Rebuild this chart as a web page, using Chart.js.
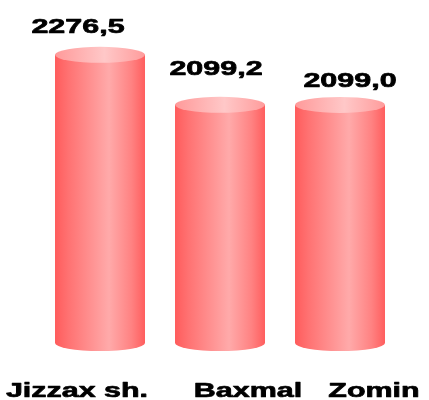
<!DOCTYPE html>
<html>
<head>
<meta charset="utf-8">
<script src="https://cdn.jsdelivr.net/npm/chart.js@4"></script>
<style>
  html, body { margin: 0; padding: 0; background: #fff; }
  #wrap { width: 429px; height: 400px; }
</style>
</head>
<body>
<div id="wrap"><canvas id="chart" width="429" height="400"></canvas></div>
<script>
const categories = ['Jizzax sh.', 'Baxmal', 'Zomin'];
const values = [2276.5, 2099.2, 2099.0];
const valueLabels = ['2276,5', '2099,2', '2099,0'];

// the original text is stretched horizontally and nudged off-centre
const textStretch = 1.45;
const valueShift = [[-22, -22], [-4, -30], [10, -18]];
const catShift = [-23, 28, 34];

function drawCylinders(chart) {
  const ctx = chart.ctx;
  const meta = chart.getDatasetMeta(0);
  meta.data.forEach((bar) => {
    const w = bar.width;
    const left = bar.x - w / 2;
    const ry = 8;
    const top = bar.y;
    const base = Math.min(bar.base, chart.chartArea.bottom);

    const body = ctx.createLinearGradient(left, 0, left + w, 0);
    body.addColorStop(0, '#ff5c5c');
    body.addColorStop(0.15, '#ff7272');
    body.addColorStop(0.6, '#ffaaaa');
    body.addColorStop(0.85, '#ff8282');
    body.addColorStop(1, '#ff5e5e');

    ctx.save();
    ctx.fillStyle = body;
    ctx.beginPath();
    ctx.moveTo(left, top);
    ctx.lineTo(left, base);
    ctx.ellipse(bar.x, base, w / 2, ry, 0, Math.PI, 0, true);
    ctx.lineTo(left + w, top);
    ctx.closePath();
    ctx.fill();

    const cap = ctx.createLinearGradient(left, 0, left + w, 0);
    cap.addColorStop(0, '#ff9a9a');
    cap.addColorStop(0.55, '#ffc8c8');
    cap.addColorStop(1, '#ff9c9c');
    ctx.fillStyle = cap;
    ctx.beginPath();
    ctx.ellipse(bar.x, top, w / 2, ry, 0, 0, Math.PI * 2);
    ctx.fill();
    ctx.restore();
  });
}

function stretchedText(ctx, txt, cx, baseline) {
  ctx.save();
  ctx.translate(cx, baseline);
  ctx.scale(textStretch, 1);
  ctx.fillText(txt, 0, 0);
  ctx.strokeText(txt, 0, 0);
  ctx.restore();
}

const cylinderPlugin = {
  id: 'cylinders',
  afterDatasetsDraw(chart) {
    drawCylinders(chart);
    const ctx = chart.ctx;
    const meta = chart.getDatasetMeta(0);
    ctx.save();
    ctx.fillStyle = '#000';
    ctx.strokeStyle = '#000';
    ctx.lineWidth = 0.7;
    ctx.lineJoin = 'round';
    ctx.font = 'bold 21px "Liberation Sans", Arial, sans-serif';
    ctx.textAlign = 'center';
    ctx.textBaseline = 'alphabetic';
    meta.data.forEach((bar, i) => {
      stretchedText(ctx, valueLabels[i], bar.x + valueShift[i][0], bar.y + valueShift[i][1]);
      stretchedText(ctx, categories[i], bar.x + catShift[i], 397);
    });
    ctx.restore();
  }
};

new Chart(document.getElementById('chart'), {
  type: 'bar',
  data: {
    labels: categories,
    datasets: [{
      data: values,
      backgroundColor: 'rgba(0,0,0,0)',
      categoryPercentage: 1,
      barPercentage: 0.75
    }]
  },
  options: {
    responsive: false,
    animation: false,
    layout: { padding: { left: 40, right: 29, top: 0, bottom: 57 } },
    plugins: { legend: { display: false }, tooltip: { enabled: false } },
    scales: {
      x: { display: false },
      y: { display: false, min: 1255, max: 2471 }
    }
  },
  plugins: [cylinderPlugin]
});
</script>
</body>
</html>
